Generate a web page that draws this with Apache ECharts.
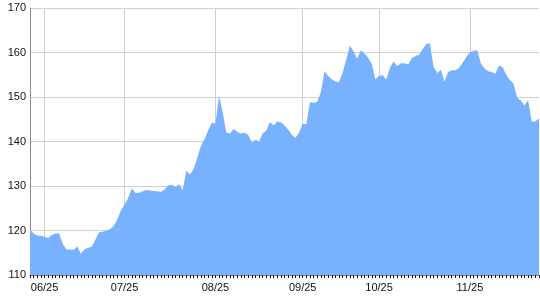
<!DOCTYPE html>
<html>
<head>
<meta charset="utf-8">
<script src="https://cdn.jsdelivr.net/npm/echarts@6/dist/echarts.min.js"></script>
<style>html,body{margin:0;padding:0;background:#fff}#c{width:540px;height:300px}</style>
</head>
<body>
<div id="c"></div>
<script>
const values = [
120.3,119.3,118.9,118.8,118.6,118.3,119.0,119.3,119.4,117.0,
115.8,115.7,115.7,116.4,114.8,115.8,116.1,116.4,118.0,119.6,
119.7,120.0,120.3,121.0,122.5,124.5,125.8,127.3,129.5,128.4,
128.5,128.8,129.1,129.0,128.9,128.8,128.7,129.2,130.1,130.3,
129.8,130.4,129.1,133.4,132.6,133.8,136.3,139.0,140.5,142.5,
144.2,144.0,150.3,146.5,142.0,141.8,142.8,142.2,141.8,142.0,
141.5,139.8,140.4,140.0,141.8,142.4,144.4,143.6,144.5,144.3,
143.6,142.7,141.5,140.8,142.0,144.0,143.9,148.8,148.7,148.9,
151.1,155.8,154.8,154.0,153.5,153.3,155.5,158.5,161.5,160.3,
158.6,160.5,159.8,158.8,157.5,154.0,154.8,154.9,154.0,156.5,
158.0,156.9,157.6,157.6,157.3,158.7,159.2,159.5,160.8,161.9,
162.1,156.8,155.4,156.1,153.5,155.6,156.0,156.0,156.5,157.7,
159.0,160.0,160.4,160.5,157.6,156.4,155.8,155.6,155.2,157.1,
156.7,155.0,153.8,153.0,149.9,149.2,148.1,149.3,144.5,144.5,
145.2
];
const categories = values.map((v, i) => i);
const tickLabels = ['06/25','07/25','08/25','09/25','10/25','11/25'];
const tickIndex = [4, 26, 51, 75, 96, 121];
const yTicks = [110, 120, 130, 140, 150, 160, 170];

const isTick = (idx) => tickIndex.indexOf(idx) >= 0;

const chart = echarts.init(document.getElementById('c'), null, {renderer: 'canvas'});
chart.setOption({
  animation: false,
  grid: {left: 30, right: 1, top: 8, bottom: 25, containLabel: false},
  xAxis: {
    type: 'category',
    data: categories,
    boundaryGap: false,
    axisLine: {show: true, lineStyle: {color: '#8a8a8a', width: 1}},
    axisTick: {show: true, interval: 0, length: 3, lineStyle: {color: '#111'}},
    axisLabel: {
      interval: (idx) => isTick(idx),
      formatter: (val, idx) => { const k = tickIndex.indexOf(Number(val)); return k >= 0 ? tickLabels[k] : ''; },
      color: '#111', fontSize: 11, fontFamily: 'Liberation Sans, Arial, sans-serif', margin: 7
    },
    splitLine: {show: true, interval: (idx) => isTick(idx), lineStyle: {color: '#cfcfcf', width: 1}}
  },
  yAxis: {
    type: 'value',
    min: yTicks[0], max: yTicks[yTicks.length - 1], interval: 10,
    axisLine: {show: true, lineStyle: {color: '#8a8a8a', width: 1}},
    axisTick: {show: false},
    axisLabel: {color: '#111', fontSize: 11, fontFamily: 'Liberation Sans, Arial, sans-serif', margin: 4},
    splitLine: {show: true, lineStyle: {color: '#cfcfcf', width: 1}}
  },
  series: [{
    type: 'line',
    data: values,
    symbol: 'none',
    lineStyle: {width: 0, color: '#78b2ff'},
    itemStyle: {color: '#78b2ff'},
    areaStyle: {color: '#78b2ff', opacity: 1}
  }]
});
</script>
</body>
</html>
